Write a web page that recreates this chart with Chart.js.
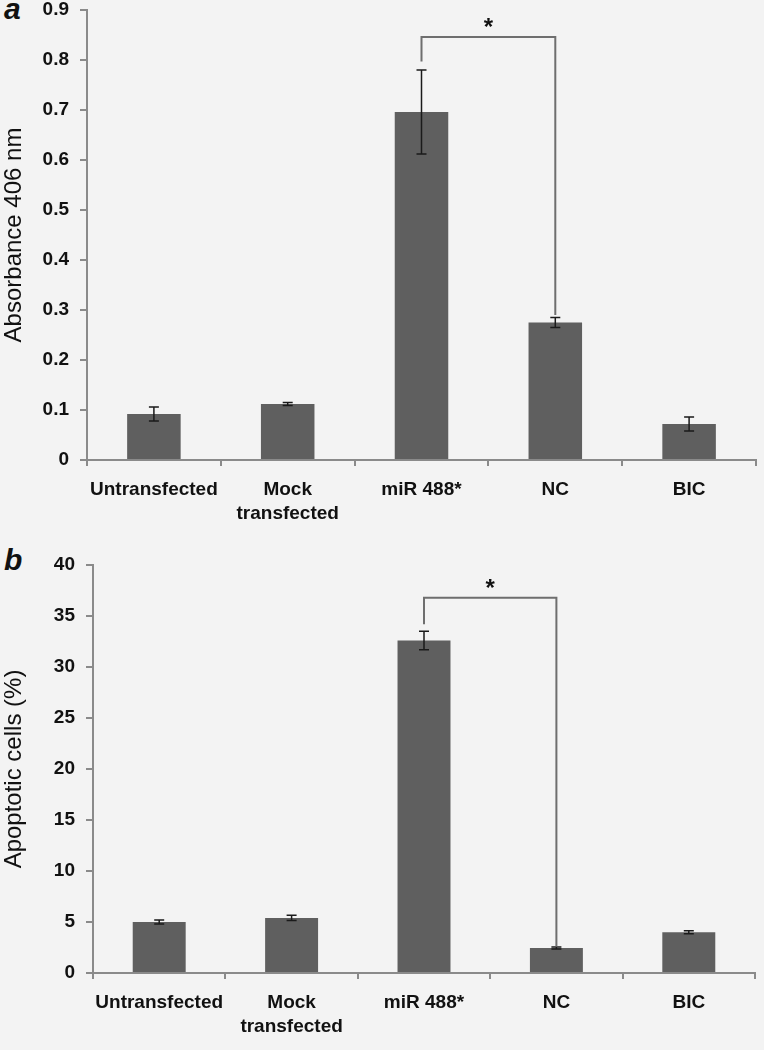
<!DOCTYPE html>
<html>
<head>
<meta charset="utf-8">
<script src="https://cdn.jsdelivr.net/npm/chart.js@4.4.1/dist/chart.umd.min.js"></script>
<style>
  html, body { margin:0; padding:0; background:#f3f3f3; }
  body { width:764px; height:1050px; position:relative; overflow:hidden; font-family:"Liberation Sans", Arial, sans-serif; }
  .panel { position:absolute; left:0; width:764px; }
  .letter { position:absolute; left:4px; font: italic bold 30px "Liberation Sans", Arial, sans-serif; color:#111; }
</style>
</head>
<body>
<div class="letter" style="top:-8px;">a</div>
<div class="letter" style="top:543px;">b</div>
<div class="panel" style="top:0;height:528px;"><canvas id="ca"></canvas></div>
<div class="panel" style="top:528px;height:522px;"><canvas id="cb"></canvas></div>
<script>
// ---- data ----
const categories = ["Untransfected", ["Mock", "transfected"], "miR 488*", "NC", "BIC"];
const absorbanceValues = [0.092, 0.112, 0.696, 0.275, 0.072];
const absorbanceErrors = [0.014, 0.003, 0.084, 0.010, 0.014];
const apoptoticValues = [5.0, 5.4, 32.6, 2.45, 4.0];
const apoptoticErrors = [0.2, 0.25, 0.9, 0.1, 0.15];
const absorbanceTicks = [0, 0.1, 0.2, 0.3, 0.4, 0.5, 0.6, 0.7, 0.8, 0.9];
const apoptoticTicks = [0, 5, 10, 15, 20, 25, 30, 35, 40];
// significance brackets: from/to category index, bar level, left and right end levels
const bracketA = { from: 2, to: 3, level: 0.846, leftEnd: 0.797, rightEnd: 0.29, label: "*" };
const bracketB = { from: 2, to: 3, level: 36.8, leftEnd: 34.2, rightEnd: 2.6, label: "*" };

const FONT = "'Liberation Sans', Arial, sans-serif";
const BAR = "#5f5f5f";
const AXIS = "#8a8a8a";

const errorBarPlugin = {
  id: 'errorBars',
  afterDatasetsDraw(chart, args, opts) {
    const ctx = chart.ctx;
    const meta = chart.getDatasetMeta(0);
    const ys = chart.scales.y;
    const vals = chart.data.datasets[0].data;
    ctx.save();
    ctx.strokeStyle = '#1a1a1a';
    ctx.lineWidth = 1.5;
    meta.data.forEach((bar, i) => {
      const e = opts.errors[i];
      const yt = ys.getPixelForValue(vals[i] + e);
      const yb = ys.getPixelForValue(vals[i] - e);
      const x = bar.x;
      ctx.beginPath();
      ctx.moveTo(x, yt); ctx.lineTo(x, yb);
      ctx.moveTo(x - 5, yt); ctx.lineTo(x + 5, yt);
      ctx.moveTo(x - 5, yb); ctx.lineTo(x + 5, yb);
      ctx.stroke();
    });
    ctx.restore();
  }
};

const bracketPlugin = {
  id: 'bracket',
  afterDatasetsDraw(chart, args, opts) {
    const b = opts.bracket;
    const ctx = chart.ctx;
    const meta = chart.getDatasetMeta(0);
    const ys = chart.scales.y;
    const x1 = meta.data[b.from].x, x2 = meta.data[b.to].x;
    const yl = ys.getPixelForValue(b.level);
    ctx.save();
    ctx.strokeStyle = '#6e6e6e';
    ctx.lineWidth = 2;
    ctx.beginPath();
    ctx.moveTo(x1, ys.getPixelForValue(b.leftEnd));
    ctx.lineTo(x1, yl);
    ctx.lineTo(x2, yl);
    ctx.lineTo(x2, ys.getPixelForValue(b.rightEnd));
    ctx.stroke();
    ctx.fillStyle = '#111';
    ctx.font = "bold 24px " + FONT;
    ctx.textAlign = 'center';
    ctx.textBaseline = 'alphabetic';
    ctx.fillText(b.label, (x1 + x2) / 2, yl - 2);
    ctx.restore();
  }
};

function makeChart(id, values, errors, ticks, yTitle, bracket, geom) {
  return new Chart(document.getElementById(id), {
    type: 'bar',
    data: {
      labels: categories,
      datasets: [{ data: values, backgroundColor: BAR, borderWidth: 0, barPercentage: 0.5, categoryPercentage: 0.8 }]
    },
    options: {
      responsive: true,
      maintainAspectRatio: false,
      animation: false,
      layout: { padding: { left: 0, right: geom.right, top: geom.top, bottom: 0 } },
      plugins: {
        legend: { display: false },
        tooltip: { enabled: false },
        errorBars: { errors: errors },
        bracket: { bracket: bracket }
      },
      scales: {
        x: {
          grid: { display: true, offset: true, drawOnChartArea: false, drawTicks: true, tickLength: 6, color: AXIS, lineWidth: 2 },
          border: { display: true, color: AXIS, width: 2 },
          ticks: { color: '#111', font: { family: FONT, size: 19, weight: 'bold', lineHeight: 1.3 }, padding: 11, maxRotation: 0, autoSkip: false },
          afterFit(scale) { scale.height = geom.xHeight; scale.paddingLeft = 0; scale.paddingRight = 0; }
        },
        y: {
          min: ticks[0], max: ticks[ticks.length - 1],
          afterBuildTicks(scale) { scale.ticks = ticks.map(v => ({ value: v })); },
          grid: { display: true, drawOnChartArea: false, drawTicks: true, tickLength: 7, color: AXIS, lineWidth: 2 },
          border: { display: true, color: AXIS, width: 2 },
          ticks: { color: '#111', font: { family: FONT, size: 19, weight: 'bold' }, padding: 11, callback: v => String(v) },
          title: { display: true, text: yTitle, color: '#111', font: { family: FONT, size: 24 }, padding: { top: 0, bottom: 4 } },
          afterFit(scale) { scale.width = geom.yWidth; scale.paddingTop = 0; scale.paddingBottom = 0; }
        }
      }
    },
    plugins: [errorBarPlugin, bracketPlugin]
  });
}

makeChart('ca', absorbanceValues, absorbanceErrors, absorbanceTicks, 'Absorbance 406 nm', bracketA,
  { top: 10, right: 8, xHeight: 68, yWidth: 87 });
makeChart('cb', apoptoticValues, apoptoticErrors, apoptoticTicks, 'Apoptotic cells (%)', bracketB,
  { top: 37, right: 9, xHeight: 77, yWidth: 93 });
</script>
</body>
</html>
